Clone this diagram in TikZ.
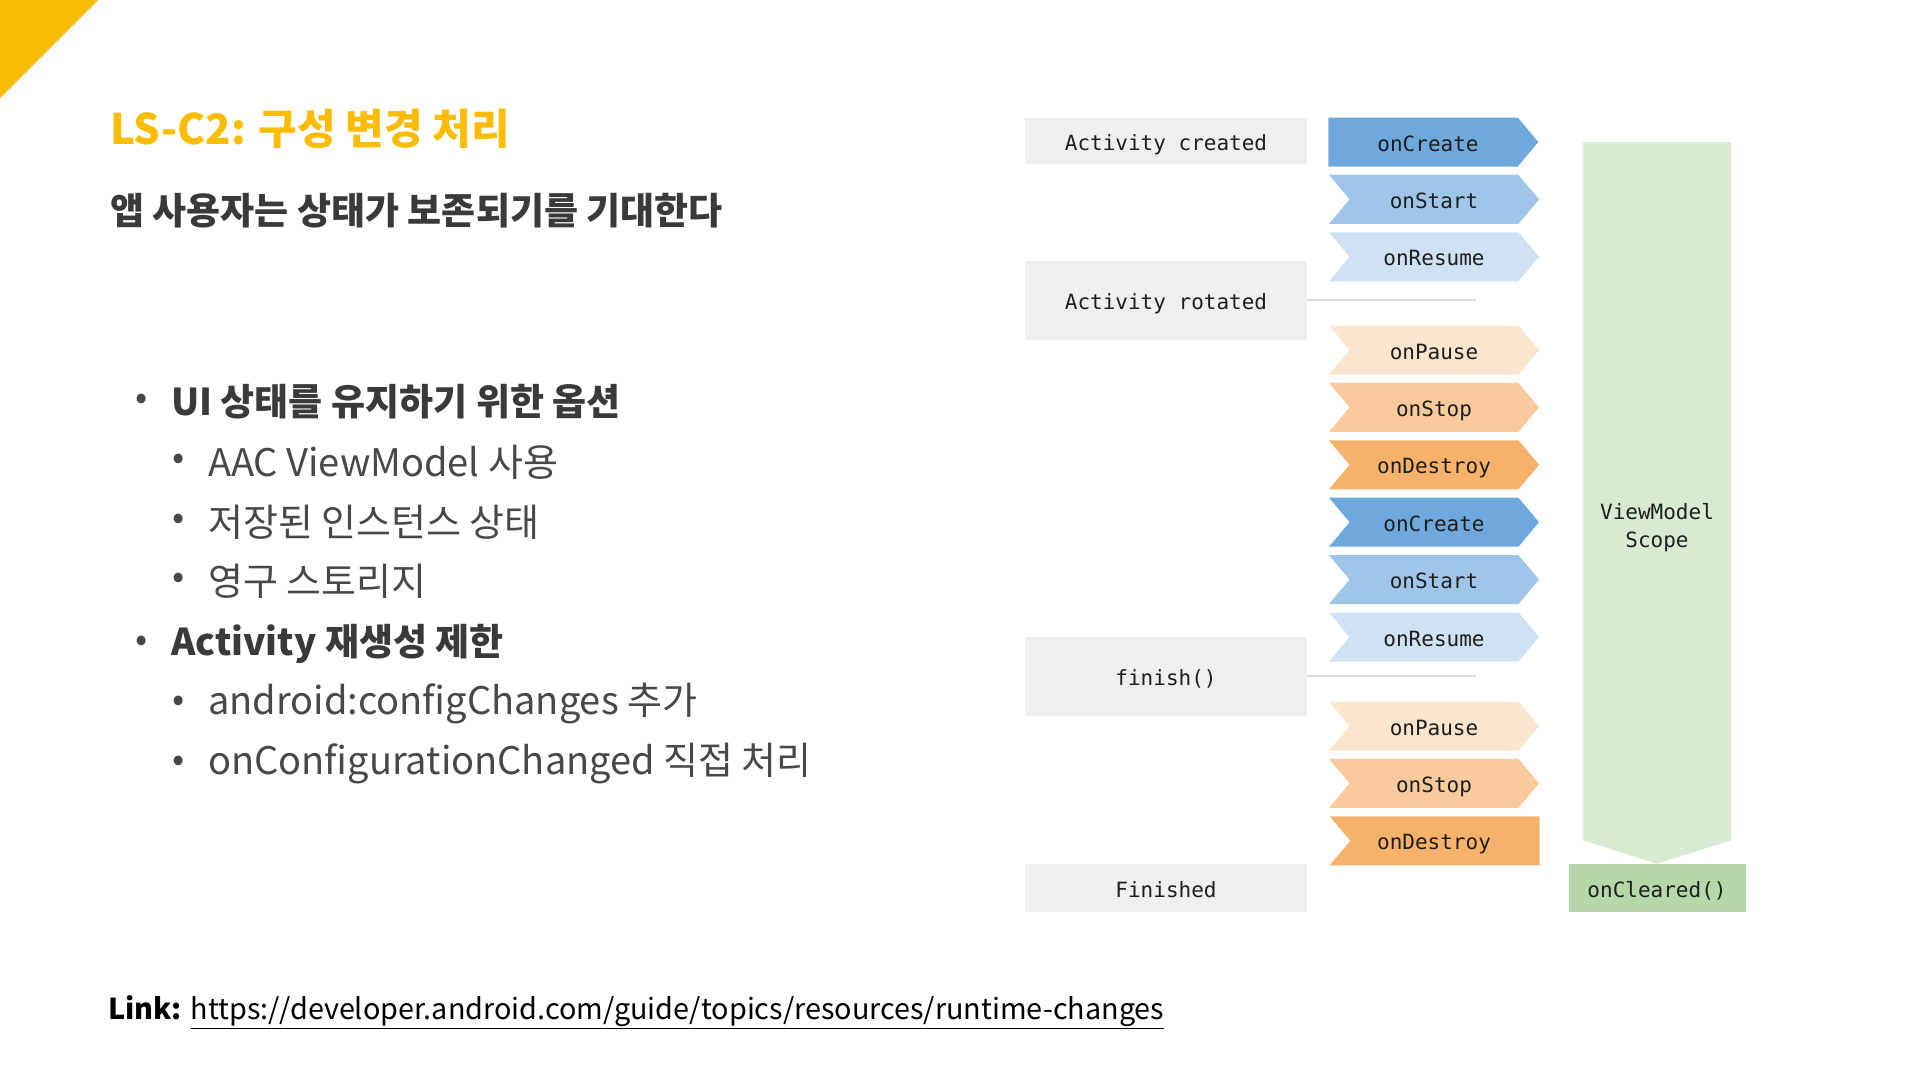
\documentclass[tikz,border=0pt]{standalone}
\usepackage{fontspec}
\setmainfont{Noto Sans CJK KR}
\setmonofont{DejaVu Sans Mono}
\usetikzlibrary{positioning,shapes.symbols}

\definecolor{gyellow}{HTML}{FBBC04}
\definecolor{slidetext}{HTML}{3A3A3A}
\definecolor{subtext}{HTML}{484848}
\definecolor{diagtext}{HTML}{1E1E1E}
\definecolor{boxgray}{HTML}{EFEFEF}
\definecolor{linegray}{HTML}{D9D9D9}
\definecolor{blueA}{HTML}{6FA8DC}
\definecolor{blueB}{HTML}{9FC5E8}
\definecolor{blueC}{HTML}{CFE2F3}
\definecolor{orangeA}{HTML}{FCE5CD}
\definecolor{orangeB}{HTML}{F9CB9C}
\definecolor{orangeC}{HTML}{F6B26B}
\definecolor{scopegreen}{HTML}{D9EAD3}
\definecolor{clearedgreen}{HTML}{B6D7A8}

\begin{document}
\begin{tikzpicture}[x=1pt,y=-1pt,node distance=8pt,
    mono/.style={font=\ttfamily\fontsize{21}{28}\selectfont,text=diagtext,text height=22pt,text depth=4pt},
    state/.style={mono,rectangle,fill=boxgray,minimum width=282pt,inner sep=0pt},
    cb/.style={mono,signal,signal from=west,signal to=east,signal pointer angle=100,
               minimum width=210pt,minimum height=49pt,inner sep=0pt},
    first cb/.style={cb,signal from=nowhere},
    last cb/.style={cb,signal to=nowhere},
    gap/.style={linegray,line width=1.5pt},
    item/.style={anchor=west,inner sep=0pt,font=\fontsize{38}{44}\selectfont,text=subtext},
    head/.style={item,font=\bfseries\fontsize{37}{44}\selectfont,text=slidetext},
    dot/.style={inner sep=0pt,font=\fontsize{36}{40}\selectfont,text=subtext}]

  \useasboundingbox (0,0) rectangle (1920,1080);
  \fill[gyellow] (0,0) -- (98,0) -- (0,98) -- cycle;

  % slide text
  \node[anchor=west,inner sep=0pt,text=gyellow,font=\bfseries\fontsize{42}{48}\selectfont] (title) at (110,129) {LS-C2: 구성 변경 처리};
  \node[anchor=west,inner sep=0pt,text=slidetext,font=\bfseries\fontsize{37}{44}\selectfont] (sub) at (110,211) {앱 사용자는 상태가 보존되기를 기대한다};

  \node[dot] (d1) at (142,402) {•};
  \node[head] (h1) at (171,402) {UI 상태를 유지하기 위한 옵션};
  \node[dot] (d2) at (179,462) {•};
  \node[item] (i1) at (208,462) {AAC ViewModel 사용};
  \node[dot] (d3) at (179,522) {•};
  \node[item] (i2) at (208,522) {저장된 인스턴스 상태};
  \node[dot] (d4) at (179,581) {•};
  \node[item] (i3) at (208,581) {영구 스토리지};
  \node[dot] (d5) at (142,644) {•};
  \node[head] (h2) at (171,644) {Activity 재생성 제한};
  \node[dot] (d6) at (179,704) {•};
  \node[item] (i4) at (208,704) {android:configChanges 추가};
  \node[dot] (d7) at (179,764) {•};
  \node[item] (i5) at (208,764) {onConfigurationChanged 직접 처리};

  \node[anchor=west,inner sep=0pt,text=black,font=\fontsize{28.8}{34}\selectfont] (link) at (108,1012)
    {\textbf{Link:} \underline{https://developer.android.com/guide/topics/resources/runtime-changes}};

  % activity states
  \node[state,minimum height=46pt] (created) at (1166,141) {Activity created};
  \node[state,minimum height=79pt] (rotated) at (1166,300) {Activity rotated};
  \node[state,minimum height=79pt] (finish) at (1166,676) {finish()};
  \node[state,minimum height=48pt] (finished) at (1166,888) {Finished};

  % lifecycle callbacks
  \node[first cb,fill=blueA] (c1) at (1423,142) {\hspace*{10pt}onCreate};
  \node[cb,fill=blueB] (c2) [below=of c1,xshift=11pt] {onStart};
  \node[cb,fill=blueC] (c3) [below=of c2] {onResume};
  \node[cb,fill=orangeA] (c4) at (1434,350) {onPause};
  \node[cb,fill=orangeB] (c5) [below=of c4] {onStop};
  \node[cb,fill=orangeC] (c6) [below=of c5] {onDestroy};
  \node[cb,fill=blueA] (c7) [below=of c6] {onCreate};
  \node[cb,fill=blueB] (c8) [below=of c7] {onStart};
  \node[cb,fill=blueC] (c9) [below=of c8] {onResume};
  \node[cb,fill=orangeA] (c10) at (1434,726) {onPause};
  \node[cb,fill=orangeB] (c11) [below=of c10] {onStop};
  \node[last cb,fill=orangeC] (c12) [below=of c11,xshift=11pt] {\hspace*{-22pt}onDestroy};

  \coordinate (rotend) at (1476,300);
  \coordinate (finend) at (1476,676);
  \draw[gap] (rotated.east) -- (rotend);
  \draw[gap] (finish.east) -- (finend);

  % viewmodel scope
  \node[mono,rectangle,fill=clearedgreen,minimum width=177pt,minimum height=48pt,inner sep=0pt] (cleared) at (1657,888) {onCleared()};
  \node[rectangle,fill=scopegreen,minimum width=148pt,minimum height=698pt,inner sep=0pt] (vm) at (1657,491) {};
  \fill[scopegreen] (vm.south west) -- (vm.south east) -- (cleared.north) -- cycle;
  \node[mono,align=center,text height=,text depth=] (vmlabel) at (1657,528) {ViewModel\\Scope};
\end{tikzpicture}
\end{document}
